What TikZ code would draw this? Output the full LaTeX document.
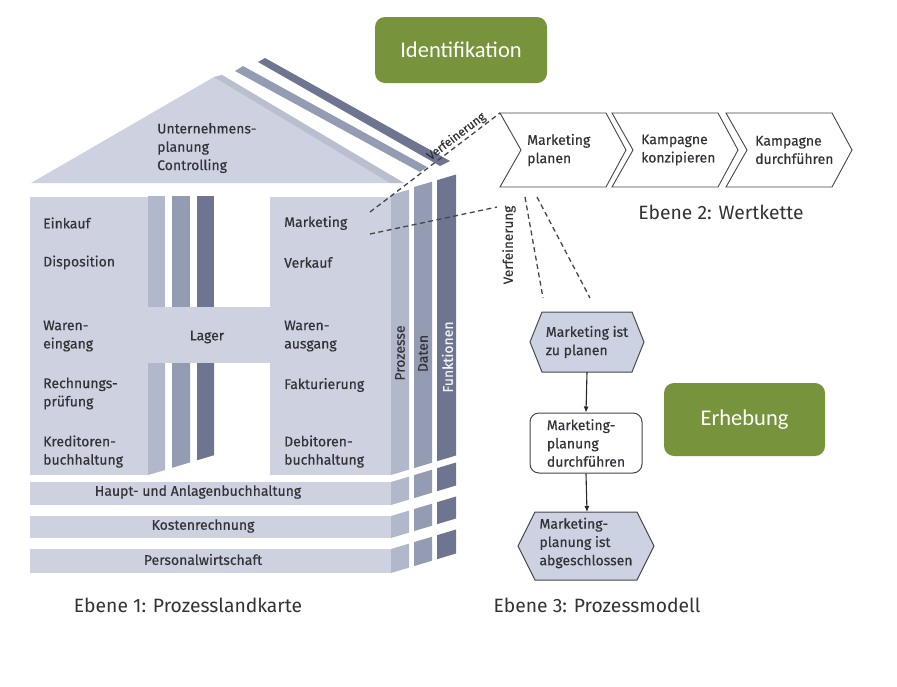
\documentclass[tikz,border=0pt]{standalone}
\usepackage{fontspec}
\setmainfont{Fira Sans}[FakeBold=0.35]
\newfontfamily\plainfont{Fira Sans}
\newfontfamily\greenfont{Carlito}
\usetikzlibrary{arrows.meta}
\definecolor{cFront}{RGB}{206,210,224}
\definecolor{cRoof}{RGB}{186,191,208}
\definecolor{cBarA}{RGB}{178,184,204}
\definecolor{cBarB}{RGB}{148,156,180}
\definecolor{cBarC}{RGB}{110,117,145}
\definecolor{cText}{RGB}{50,50,55}
\definecolor{cLine}{RGB}{70,70,74}
\definecolor{cGreen}{RGB}{119,147,60}
\definecolor{cHex}{RGB}{204,210,226}
\tikzset{
  htxt/.style={anchor=west, inner sep=0pt, align=left, text=cText, font=\fontsize{14}{18.3}\selectfont},
  ctxt/.style={inner sep=0pt, align=center, text=cText, font=\fontsize{14}{18.3}\selectfont},
  coltxt/.style={inner sep=0pt, rotate=90, font=\fontsize{14}{16}\selectfont},
  chevst/.style={draw=cLine, line width=0.9pt, fill=white, line join=miter},
  greenbox/.style={fill=cGreen, rounded corners=10pt, text=white, font=\greenfont\fontsize{22.5}{26}\selectfont, inner sep=0pt},
  capt/.style={inner sep=0pt, text=cText, font=\plainfont\fontsize{19.3}{22}\selectfont},
  dashline/.style={draw=cLine, line width=1.3pt, dash pattern=on 5pt off 3.5pt},
  vlabel/.style={inner sep=1pt, text=cText, font=\fontsize{12}{14}\selectfont},
  flowarrow/.style={draw=black!85, line width=1.1pt, -{Latex[length=6pt,width=5pt]}},
  hexst/.style={draw=cLine, line width=1pt, fill=cHex, line join=miter},
}
\begin{document}
\begin{tikzpicture}[x=1pt,y=-1pt]
\useasboundingbox (0,0) rectangle (897,686);

% ---------- roof ----------
\fill[cFront] (31,183) -- (214,77) -- (222,75) -- (404,183) -- cycle;
\fill[cRoof] (214,77) -- (222,75) -- (404,183) -- (390,183) -- cycle;
\fill[cBarB] (235,71) -- (243,66) -- (427,167) -- (420,172) -- cycle;
\fill[cBarC] (258,62) -- (265,58) -- (450,161) -- (440,166) -- cycle;

% ---------- front face ----------
\fill[cFront] (30,197) rectangle (148,475);
\fill[cFront] (270,197) rectangle (391,475);
\fill[cFront] (148,307) rectangle (270,363);
% inner door bars
\fill[cBarA] (148,196) rectangle (165,307);
\fill[cBarB] (172,196) rectangle (190,307);
\fill[cBarC] (197,196) rectangle (214,307);
\fill[cBarA] (148,363) -- (165,363) -- (165,470) -- (148,475) -- cycle;
\fill[cBarB] (172,363) -- (190,363) -- (190,462.4) -- (172,467.8) -- cycle;
\fill[cBarC] (197,363) -- (214,363) -- (214,455.2) -- (197,460.3) -- cycle;

% right side columns
\fill[cBarA] (391,195) -- (409,189.6) -- (409,469.6) -- (391,475) -- cycle;
\fill[cBarB] (414,187) -- (432,181.7) -- (432,462.7) -- (414,468.1) -- cycle;
\fill[cBarC] (437,180.2) -- (456,174.5) -- (456,455.5) -- (437,461.2) -- cycle;

% bottom bands
\foreach \t/\b in {482/505, 516/538, 549/573}{
  \fill[cFront] (30,\t) rectangle (391,\b);
  \fill[cBarA] (391,\t) -- (409,\t-5.4) -- (409,\b-5.4) -- (391,\b) -- cycle;
  \fill[cBarB] (414,\t-6.9) -- (432,\t-12.3) -- (432,\b-12.3) -- (414,\b-6.9) -- cycle;
  \fill[cBarC] (437,\t-13.8) -- (456,\t-19.5) -- (456,\b-19.5) -- (437,\b-13.8) -- cycle;
}

% ---------- house texts ----------
\node[htxt] (untern) at (157,148) {Unternehmens-\\planung\\Controlling};
\node[htxt] (einkauf) at (43,223) {Einkauf};
\node[htxt] (dispo) at (43,262.5) {Disposition};
\node[htxt] (weing) at (43,336) {Waren-\\eingang};
\node[htxt] (rechn) at (43,393.5) {Rechnungs-\\prüfung};
\node[htxt] (kred) at (43,451.5) {Kreditoren-\\buchhaltung};
\node[ctxt] (lager) at (207,337) {Lager};
\node[htxt] (mark) at (284,223) {Marketing};
\node[htxt] (verk) at (284,262.5) {Verkauf};
\node[htxt] (wausg) at (284,336) {Waren-\\ausgang};
\node[htxt] (fakt) at (284,385) {Fakturierung};
\node[htxt] (debi) at (284,451.5) {Debitoren-\\buchhaltung};
\node[ctxt] (haupt) at (198,492) {Haupt- und Anlagenbuchhaltung};
\node[ctxt] (kosten) at (203,526) {Kostenrechnung};
\node[ctxt] (personal) at (203,559.5) {Personalwirtschaft};
\node[coltxt, text=cText] (prozesse) at (400,353) {Prozesse};
\node[coltxt, text=cText] (daten) at (423,353.5) {Daten};
\node[coltxt, text=white!92!cBarC] (funkt) at (447.5,357) {Funktionen};

% ---------- green boxes ----------
\node[greenbox, minimum width=172pt, minimum height=66pt] (ident) at (461,50) {Identifikation};
\node[greenbox, minimum width=161pt, minimum height=73pt] (erheb) at (744.5,419.5) {Erhebung};

% ---------- value chain ----------
\foreach \x in {500,612,726}{
  \draw[chevst] (\x,113) -- ++(106,0) -- ++(20,37) -- ++(-20,37) -- ++(-106,0) -- ++(21,-37) -- cycle;
}
\coordinate (c1tl) at (500,113);
\node[htxt] (ch1) at (527,150) {Marketing\\planen};
\node[htxt] (ch2) at (641,150) {Kampagne\\konzipieren};
\node[htxt] (ch3) at (755,150) {Kampagne\\durchführen};

% ---------- dashed refinement lines ----------
\coordinate (markA) at (370,212);
\coordinate (markB) at (370,234);
\coordinate (endB) at (497,207);
\coordinate (c1a) at (525,197);
\coordinate (c1b) at (537,197);
\coordinate (h1a) at (543,298);
\coordinate (h1b) at (590,298);
\draw[dashline] (markA) -- (c1tl) node[vlabel, pos=0.7, sloped, above] (vf1) {Verfeinerung};
\draw[dashline] (markB) -- (endB);
\draw[dashline] (c1a) -- (h1a);
\draw[dashline] (c1b) -- (h1b);
\node[vlabel, rotate=90, font=\fontsize{13.5}{15}\selectfont] (vf2) at (509,245) {Verfeinerung};

% ---------- process model ----------
\draw[hexst] (530,342) -- (542,312) -- (632,312) -- (644,342) -- (632,372) -- (542,372) -- cycle;
\node[htxt, anchor=center] (hex1) at (587,342) {Marketing ist\\zu planen};
\coordinate (hex1s) at (587,372);
\node[draw=cLine, line width=1pt, rounded corners=9pt, fill=white, minimum width=112pt, minimum height=60pt, inner sep=0pt] (fn) at (586,443) {};
\node[htxt, anchor=center] (fntxt) at (586,443) {Marketing-\\planung\\durchführen};
\draw[hexst] (518,546) -- (535,512) -- (637,512) -- (654,546) -- (637,580) -- (535,580) -- cycle;
\node[htxt, anchor=center] (hex2) at (586,543) {Marketing-\\planung ist\\abgeschlossen};
\coordinate (hex2n) at (587,512);
\draw[flowarrow] (hex1s) -- (fn.north);
\draw[flowarrow] (fn.south) -- (hex2n);

% ---------- captions ----------
\node[capt] (e1) at (188,605) {Ebene 1: Prozesslandkarte};
\node[capt] (e2) at (721,212) {Ebene 2: Wertkette};
\node[capt] (e3) at (597,605) {Ebene 3: Prozessmodell};
\end{tikzpicture}
\end{document}
